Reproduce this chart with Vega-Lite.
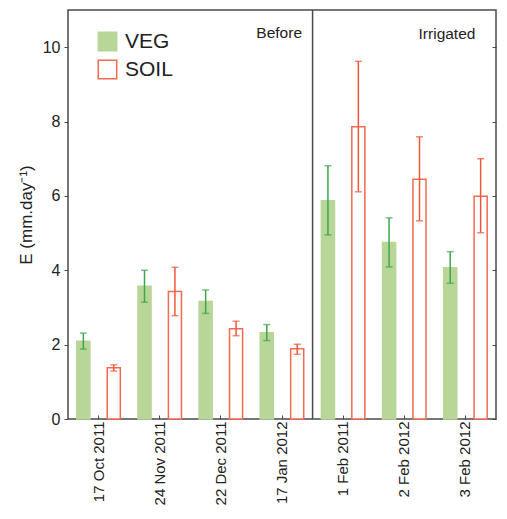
{
  "$schema": "https://vega.github.io/schema/vega-lite/v6.json",
  "width": 428,
  "height": 409,
  "autosize": "none",
  "padding": {"left": 68, "top": 10, "right": 11, "bottom": 100},
  "background": "white",
  "config": {
    "view": {"stroke": "#4a4a4a", "strokeWidth": 1.5},
    "font": "Liberation Sans",
    "axis": {"labelFont": "Liberation Sans", "titleFont": "Liberation Sans", "labelColor": "#222", "titleColor": "#222", "tickColor": "#4a4a4a", "domain": false, "grid": false}
  },
  "datasets": {
    "e": [
      {"date": "17 Oct 2011", "series": "VEG", "value": 2.09, "lo": 1.88, "hi": 2.31},
      {"date": "17 Oct 2011", "series": "SOIL", "value": 1.38, "lo": 1.29, "hi": 1.46},
      {"date": "24 Nov 2011", "series": "VEG", "value": 3.57, "lo": 3.14, "hi": 4.0},
      {"date": "24 Nov 2011", "series": "SOIL", "value": 3.43, "lo": 2.78, "hi": 4.08},
      {"date": "22 Dec 2011", "series": "VEG", "value": 3.16, "lo": 2.84, "hi": 3.47},
      {"date": "22 Dec 2011", "series": "SOIL", "value": 2.43, "lo": 2.24, "hi": 2.63},
      {"date": "17 Jan 2012", "series": "VEG", "value": 2.32, "lo": 2.11, "hi": 2.54},
      {"date": "17 Jan 2012", "series": "SOIL", "value": 1.89, "lo": 1.74, "hi": 2.01},
      {"date": "1 Feb 2011", "series": "VEG", "value": 5.87, "lo": 4.95, "hi": 6.81},
      {"date": "1 Feb 2011", "series": "SOIL", "value": 7.86, "lo": 6.11, "hi": 9.62},
      {"date": "2 Feb 2012", "series": "VEG", "value": 4.75, "lo": 4.09, "hi": 5.41},
      {"date": "2 Feb 2012", "series": "SOIL", "value": 6.45, "lo": 5.33, "hi": 7.59},
      {"date": "3 Feb 2012", "series": "VEG", "value": 4.07, "lo": 3.65, "hi": 4.5},
      {"date": "3 Feb 2012", "series": "SOIL", "value": 5.99, "lo": 5.01, "hi": 7.0}
    ],
    "before": [{"date": "17 Jan 2012", "label": "Before", "y": 10.26}],
    "irrigated": [{"date": "3 Feb 2012", "label": "Irrigated", "y": 10.22}],
    "divider": [{"date": "1 Feb 2011"}]
  },
  "resolve": {"axis": {"y": "independent"}},
  "layer": [
    {
      "data": {"name": "e"},
      "mark": {"type": "bar", "strokeWidth": 1.5},
      "encoding": {
        "x": {"field": "date", "type": "nominal", "sort": null,
              "scale": {"paddingInner": 0, "paddingOuter": 0},
              "axis": {"title": null, "labelAngle": -90, "labelFontSize": 15, "labelPadding": 6, "tickSize": -4, "labelAlign": "right", "labelBaseline": "middle"}},
        "xOffset": {"field": "series", "type": "nominal", "sort": ["VEG", "SOIL"],
                    "scale": {"domain": ["VEG", "SOIL"], "paddingInner": 0.57, "paddingOuter": 0.29}},
        "y": {"field": "value", "type": "quantitative",
              "scale": {"domain": [0, 11], "nice": false},
              "axis": {"values": [0, 2, 4, 6, 8, 10], "title": "E (mm.day⁻¹)", "titleFontSize": 17, "titleFontWeight": "normal", "titlePadding": 7, "labelFontSize": 16, "labelPadding": 4, "tickSize": 4}},
        "fill": {"field": "series", "type": "nominal",
                 "scale": {"domain": ["VEG", "SOIL"], "range": ["#b9d699", "#ffffff"]},
                 "legend": {"title": null, "orient": "none", "legendX": 29, "legendY": 21, "symbolType": "square", "symbolSize": 340, "symbolStrokeWidth": 1.5, "labelFontSize": 21, "labelOffset": 7, "rowPadding": 3, "padding": 0, "labelColor": "#222"}},
        "stroke": {"field": "series", "type": "nominal",
                   "scale": {"domain": ["VEG", "SOIL"], "range": ["#b9d699", "#f26a4f"]}}
      }
    },
    {
      "data": {"name": "e"},
      "mark": {"type": "rule", "strokeWidth": 1.5},
      "encoding": {
        "x": {"field": "date", "type": "nominal", "sort": null},
        "xOffset": {"field": "series", "type": "nominal"},
        "y": {"field": "lo", "type": "quantitative", "axis": {"orient": "right", "labels": false, "title": null, "values": [0, 2, 4, 6, 8, 10], "tickSize": -4}},
        "y2": {"field": "hi"},
        "color": {"condition": {"test": "datum.series === 'VEG'", "value": "#3fa64b"}, "value": "#f0583c"}
      }
    },
    {
      "data": {"name": "e"},
      "mark": {"type": "tick", "thickness": 1.5, "size": 7},
      "encoding": {
        "x": {"field": "date", "type": "nominal", "sort": null},
        "xOffset": {"field": "series", "type": "nominal"},
        "y": {"field": "lo", "type": "quantitative", "axis": null},
        "color": {"condition": {"test": "datum.series === 'VEG'", "value": "#3fa64b"}, "value": "#f0583c"}
      }
    },
    {
      "data": {"name": "e"},
      "mark": {"type": "tick", "thickness": 1.5, "size": 7},
      "encoding": {
        "x": {"field": "date", "type": "nominal", "sort": null},
        "xOffset": {"field": "series", "type": "nominal"},
        "y": {"field": "hi", "type": "quantitative", "axis": null},
        "color": {"condition": {"test": "datum.series === 'VEG'", "value": "#3fa64b"}, "value": "#f0583c"}
      }
    },
    {
      "data": {"name": "divider"},
      "mark": {"type": "rule", "color": "#4a4a4a", "strokeWidth": 1.5},
      "encoding": {
        "x": {"field": "date", "type": "nominal", "sort": null, "bandPosition": 0}
      }
    },
    {
      "data": {"name": "before"},
      "mark": {"type": "text", "align": "right", "baseline": "alphabetic", "fontSize": 15.5, "color": "#222", "dx": 20},
      "encoding": {
        "x": {"field": "date", "type": "nominal", "sort": null},
        "y": {"field": "y", "type": "quantitative", "axis": null},
        "text": {"field": "label"}
      }
    },
    {
      "data": {"name": "irrigated"},
      "mark": {"type": "text", "align": "right", "baseline": "alphabetic", "fontSize": 15.5, "color": "#222", "dx": 10},
      "encoding": {
        "x": {"field": "date", "type": "nominal", "sort": null},
        "y": {"field": "y", "type": "quantitative", "axis": null},
        "text": {"field": "label"}
      }
    }
  ]
}
